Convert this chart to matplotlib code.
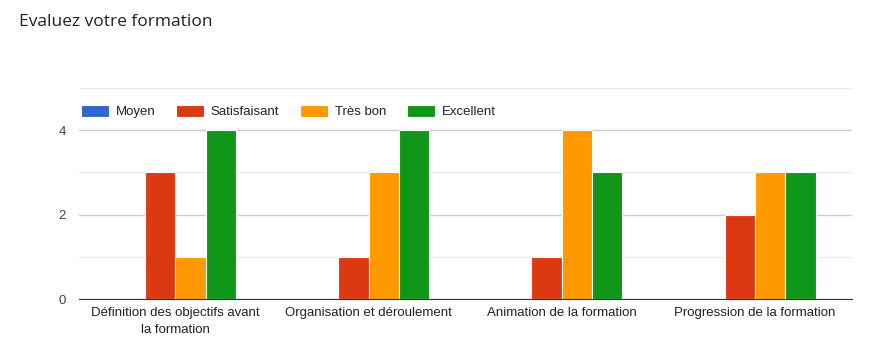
import numpy as np
import matplotlib.pyplot as plt
from matplotlib.ticker import MultipleLocator

categories = ["Définition des objectifs avant\nla formation", "Organisation et déroulement",
              "Animation de la formation", "Progression de la formation"]
series = ["Moyen", "Satisfaisant", "Très bon", "Excellent"]
moyen = [0, 0, 0, 0]
satisfaisant = [3, 1, 1, 2]
tres_bon = [1, 3, 4, 3]
excellent = [4, 4, 3, 3]
values = [moyen, satisfaisant, tres_bon, excellent]
colors = ["#3366cc", "#dc3912", "#ff9900", "#109618"]

fig = plt.figure(figsize=(8.69, 3.63), dpi=100)
ax = fig.add_axes([0.0905, 0.176, 0.8895, 0.582])

x = np.arange(len(categories))
w = 0.157
for i, (name, vals, c) in enumerate(zip(series, values, colors)):
    ax.bar(x + (i - 1.5) * w, vals, w, color=c, edgecolor="white", linewidth=0.8,
           label=name, zorder=3)

ax.set_xlim(-0.5, 3.5)
ax.set_ylim(0, 5)
ax.yaxis.set_major_locator(MultipleLocator(2))
ax.yaxis.set_minor_locator(MultipleLocator(1))
ax.grid(which="major", axis="y", color="#cccccc", linewidth=1, zorder=0)
ax.grid(which="minor", axis="y", color="#ebebeb", linewidth=1, zorder=0)
ax.set_xticks(x)
ax.set_xticklabels(categories, fontsize=9.5, color="#222222", family="Liberation Sans",
                   linespacing=1.5)
ax.set_yticks([0, 2, 4])
ax.set_yticklabels(["0", "2", "4"], fontsize=9.5, color="#444444", family="Liberation Sans")
ax.tick_params(axis="both", which="both", length=0)
ax.tick_params(axis="y", pad=9)
ax.tick_params(axis="x", pad=6)
for s in ["top", "right", "left"]:
    ax.spines[s].set_visible(False)
ax.spines["bottom"].set_color("#333333")
ax.spines["bottom"].set_zorder(4)

leg = ax.legend(loc="upper left", bbox_to_anchor=(-0.012, 0.975), ncol=4, frameon=False,
                prop={"family": "Liberation Sans", "size": 9.5}, handlelength=2.1,
                handleheight=1.0, handletextpad=0.5, columnspacing=1.6)
for t in leg.get_texts():
    t.set_color("#222222")

fig.text(0.022, 0.94, "Evaluez votre formation", fontsize=12.5, color="#202124",
         family="Open Sans", va="center")

fig.savefig("out.png", dpi=100)
